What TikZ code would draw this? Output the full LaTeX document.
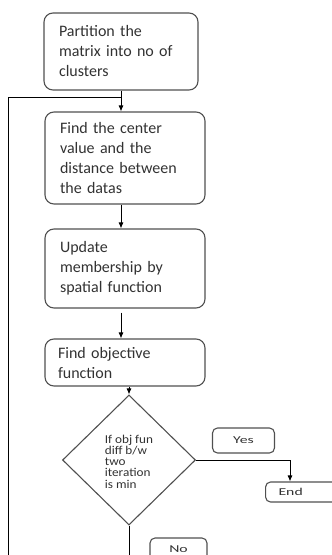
\documentclass[tikz,border=0pt]{standalone}
\usepackage{fontspec}
\setmainfont{Carlito}
\usetikzlibrary{positioning,arrows.meta,shapes.geometric}
\definecolor{BoxLine}{RGB}{80,80,80}
\definecolor{BoxText}{RGB}{50,50,50}
\newcommand{\widetext}[2]{\scalebox{#1}[1]{#2}}

\begin{document}
\begin{tikzpicture}[x=1pt, y=-1pt,
  stepbox/.style={draw=BoxLine, line width=1.1pt, rounded corners=9pt,
    text=BoxText, align=left, inner xsep=15pt, inner ysep=0pt,
    font=\fontsize{16}{20}\selectfont},
  tagbox/.style={draw=BoxLine, line width=1.1pt, rounded corners=5pt,
    text=BoxText, inner sep=0pt, font=\fontsize{10.5}{12}\selectfont},
  testbox/.style={diamond, draw=BoxLine, line width=1.1pt, minimum width=133pt,
    minimum height=130pt, inner sep=0pt, text=BoxText,
    font=\fontsize{12}{10.5}\selectfont},
  flow/.style={-{Latex[length=6pt,width=5pt]}, line width=0.9pt},
  plain/.style={line width=0.9pt}]
  \useasboundingbox (0,0) rectangle (332,555);
  \clip (0,0) rectangle (332,555);
  \node[stepbox, text width=124pt, minimum height=77pt] (b1) at (121,51.5)
    {Partition the\\matrix into no of\\clusters};
  \node[stepbox, text width=130pt, minimum height=92pt] (b2) at (125,158)
    {Find the center\\value and the\\distance between\\the datas};
  \node[stepbox, text width=130pt, minimum height=79pt] (b3) at (125,268.5)
    {Update\\membership by\\spatial function};
  \node[stepbox, text width=134pt, inner xsep=13pt, minimum height=47pt] (b4) at (125,362.5)
    {Find objective\\function};
  \node[testbox] (d) at (129,460)
    {\raisebox{-3pt}[\height][\depth]{\widetext{1.1}{\begin{tabular}{@{}l@{}}If obj fun\\diff b/w\\two\\iteration\\is min\end{tabular}}}};
  \node[tagbox, minimum width=62pt, minimum height=25pt] (yes) at (243.5,440.5)
    {\widetext{1.5}{Yes}};
  \node[tagbox, anchor=west, minimum width=80pt, minimum height=20pt,
        text width=54pt, inner xsep=13pt, align=left] (end) at (265,492)
    {\widetext{1.5}{End}};
  \node[tagbox, minimum width=57pt, minimum height=22pt] (no) at (178.5,549)
    {\widetext{1.5}{No}};

  \coordinate (loopin) at (121,97);
  \coordinate (lb) at (8,565);
  \coordinate (ej) at (290,460);
  % main flow
  \draw[flow] (b1.south -| loopin) -- (loopin |- b2.north);
  \draw[flow] (b2.south -| loopin) -- (loopin |- b3.north);
  \draw[flow, shorten <=4pt] (b3.south -| loopin) -- (loopin |- b4.north);
  \draw[flow] (b4.south -| d.north) -- (d.north);
  % yes branch
  \draw[flow] (d.east) -- (ej) -- (ej |- end.north);
  % no branch, back to the top
  \draw[plain] (d.south) -- (d.south |- lb) -- (lb) |- (loopin);
\end{tikzpicture}
\end{document}
